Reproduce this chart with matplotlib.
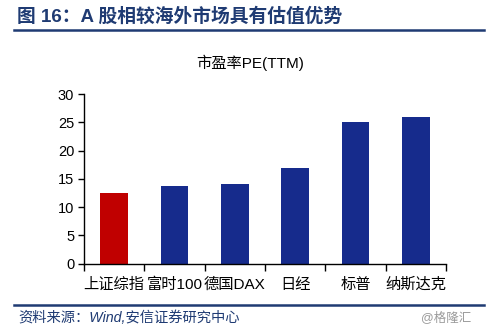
import matplotlib
matplotlib.use("Agg")
import matplotlib.pyplot as plt
from matplotlib.lines import Line2D
import numpy as np

plt.rcParams['font.family'] = ['Liberation Sans', 'Noto Sans CJK SC', 'DejaVu Sans']

# PE (TTM) by index
names = ['上证综指', '富时100', '德国DAX', '日经', '标普', '纳斯达克']
pe = [12.6, 13.8, 14.1, 16.9, 25.0, 26.0]
bar_colors = ['#C00000', '#162B8C', '#162B8C', '#162B8C', '#162B8C', '#162B8C']
yticks = [0, 5, 10, 15, 20, 25, 30]

navy = '#1F3B73'

fig = plt.figure(figsize=(4.88, 3.33), dpi=100)
ax = fig.add_axes([0.172, 0.208, 0.742, 0.509])

x = np.arange(len(names))
ax.bar(x, pe, width=0.46, color=bar_colors)

ax.set_xlim(-0.5, len(names) - 0.5)
ax.set_ylim(0, 30)
ax.set_yticks(yticks)
ax.tick_params(axis='y', labelsize=10.5, length=4, width=1, direction='out', pad=3)

# category labels without ticks, ticks on category boundaries
ax.set_xticks(x)
ax.set_xticklabels(names, fontsize=11)
ax.tick_params(axis='x', length=0, pad=10)
ax.set_xticks(np.arange(-0.5, len(names)), minor=True)
ax.tick_params(axis='x', which='minor', length=5, width=1, direction='out')

for s in ['top', 'right']:
    ax.spines[s].set_visible(False)
for s in ['left', 'bottom']:
    ax.spines[s].set_linewidth(1)
    ax.spines[s].set_color('black')

fig.text(0.512, 0.81, '市盈率PE(TTM)', fontsize=11, ha='center', va='center')

# header and footer
fig.text(0.035, 0.949, '图 16：A 股相较海外市场具有估值优势', fontsize=13.5,
         fontweight='bold', color=navy, ha='left', va='center')
fig.add_artist(Line2D([0.029, 0.992], [0.91, 0.91], color=navy, lw=1.8))
fig.add_artist(Line2D([0.029, 0.992], [0.084, 0.084], color=navy, lw=1.8))
fig.text(0.037, 0.045, '资料来源：Wind,安信证券研究中心', fontsize=10.3,
         color=navy, ha='left', va='center', style='italic')
fig.text(0.965, 0.045, '@格隆汇', fontsize=9, color='#9A9A9A', ha='right', va='center')

fig.savefig('out.png', dpi=100)
